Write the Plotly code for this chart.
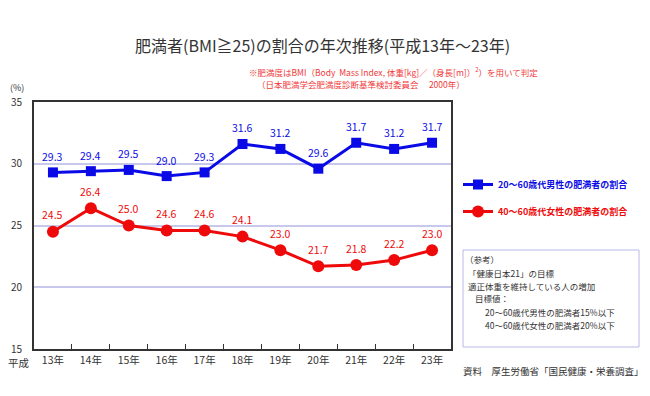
import plotly.graph_objects as go

years = ["13年", "14年", "15年", "16年", "17年", "18年", "19年", "20年", "21年", "22年", "23年"]
men = [29.3, 29.4, 29.5, 29.0, 29.3, 31.6, 31.2, 29.6, 31.7, 31.2, 31.7]
women = [24.5, 26.4, 25.0, 24.6, 24.6, 24.1, 23.0, 21.7, 21.8, 22.2, 23.0]
men_name = "20～60歳代男性の肥満者の割合"
women_name = "40～60歳代女性の肥満者の割合"

BLUE = "#0a0ae6"
RED = "#ee0a0a"
FONT = "Noto Sans CJK JP"

# The page body adds an 8px offset; target plot area in window px: x 34-451, y 102-349
OFF = 8
PL, PR, PT, PB = 34, 451, 102, 349
W, H = 650 - OFF, 396 - OFF
PW, PH = PR - PL, PB - PT


def px(x):
    return (x - PL) / PW


def py(y):
    return (PB - y) / PH


fig = go.Figure()
fig.add_trace(go.Scatter(
    x=years, y=men, mode="lines+markers",
    name=f"<span style='color:{BLUE}'><b>{men_name}</b></span>",
    line=dict(color=BLUE, width=3),
    marker=dict(symbol="square", size=10, color=BLUE),
    legendgroup="m",
))
fig.add_trace(go.Scatter(
    x=years, y=women, mode="lines+markers",
    name=f"<span style='color:{RED}'><b>{women_name}</b></span>",
    line=dict(color=RED, width=3),
    marker=dict(symbol="circle", size=12, color=RED),
    legendgroup="w",
))

for yr, v in zip(years, men):
    fig.add_annotation(x=yr, y=v, text=f"{v:.1f}", showarrow=False, yshift=16,
                       font=dict(color=BLUE, size=10.5, family=FONT))
for yr, v in zip(years, women):
    fig.add_annotation(x=yr, y=v, text=f"{v:.1f}", showarrow=False, yshift=17,
                       font=dict(color=RED, size=10.5, family=FONT))

fig.update_layout(
    width=W, height=H,
    margin=dict(l=PL - OFF, r=W - (PR - OFF), t=PT - OFF, b=H - (PB - OFF), autoexpand=False),
    paper_bgcolor="white", plot_bgcolor="white",
    font=dict(family=FONT, color="#333333"),
    showlegend=True,
    legend=dict(x=px(458), y=py(170), xanchor="left", yanchor="top",
                font=dict(size=9, family=FONT),
                tracegroupgap=8, traceorder="grouped",
                itemwidth=30, bgcolor="rgba(0,0,0,0)"),
    xaxis=dict(type="category", range=[-0.5, 10.5], showgrid=False,
               showline=True, linecolor="#333333", linewidth=2, mirror=True,
               ticks="inside", tickson="boundaries", ticklen=5, tickcolor="#333333",
               tickfont=dict(size=10.5, color="#333333"), fixedrange=True),
    yaxis=dict(range=[15, 35], tickvals=[15, 20, 25, 30, 35], showgrid=True,
               gridcolor="#c8c8ec", gridwidth=1.5,
               showline=True, linecolor="#333333", linewidth=2, mirror=True,
               ticks="", tickfont=dict(size=10, color="#333333"),
               ticklabelstandoff=8, zeroline=False),
)


def note(text, x, y, size, color="#333333", xanchor="left"):
    fig.add_annotation(xref="paper", yref="paper", x=px(x), y=py(y),
                       xanchor=xanchor, yanchor="middle", showarrow=False, text=text,
                       font=dict(size=size, color=color, family=FONT))


# Title and notes
note("肥満者(BMI≧25)の割合の年次推移(平成13年～23年)", 322, 45, 16, xanchor="center")
note("※肥満度はBMI（Body  Mass Index, 体重[kg]／（身長[m]）<sup>2</sup>）を用いて判定",
     247, 71, 8.5, color="#f03a3a")
note("（日本肥満学会肥満度診断基準検討委員会　 2000年）", 255, 84, 8.5, color="#f03a3a")

# axis extras
note("(%)", 8, 87, 9)
note("平成", 6, 362, 10.5)

# reference box
fig.add_shape(type="rect", xref="paper", yref="paper",
              x0=px(463), x1=px(639), y0=py(347), y1=py(250),
              line=dict(color="#b8b8e8", width=1), fillcolor="white")
box_lines = [
    ("（参考）", 463, 259),
    ("「健康日本21」の目標", 466, 273),
    ("適正体重を維持している人の増加", 466, 286),
    ("目標値：", 473, 298),
    ("20～60歳代男性の肥満者15%以下", 483, 312),
    ("40～60歳代女性の肥満者20%以下", 483, 325),
]
for txt, x, y in box_lines:
    note(txt, x, y, 8.5)

note("資料　厚生労働省「国民健康・栄養調査」", 646, 371, 9.5, xanchor="right")

fig.write_html("out.html")
